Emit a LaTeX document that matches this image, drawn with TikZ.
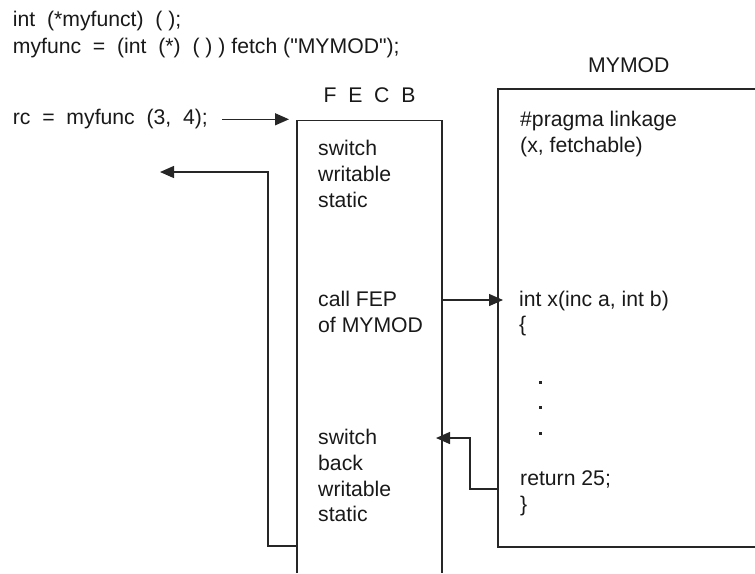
\documentclass[tikz,border=0pt]{standalone}
\usepackage{fontspec}
\setmainfont{Liberation Sans}[Ligatures=TeXOff]
\usetikzlibrary{arrows.meta}
\begin{document}
\begin{tikzpicture}[x=1pt,y=-1pt,
  code/.style={anchor=base west,inner sep=0pt,font=\fontsize{21.2}{26}\selectfont,text=black!90},
  boxline/.style={line width=1.4pt,draw=black!85},
  arr/.style={line width=1.4pt,draw=black!85,-{Triangle[length=14pt,width=12pt]}},
  dotmark/.style={fill=black!85}]
\useasboundingbox (0,0) rectangle (755,573);

% declarations
\node[code] (decl1) at (12.7,26.7) {int~~(*myfunct)~~(~);};
\node[code] (decl2) at (12.7,53) {myfunc~~=~~(int~~(*)~~(~)~) fetch ("MYMOD");};
\node[code] (call) at (12.7,124) {rc~~=~~myfunc~~(3,~~4);};

% FECB stub: open at the bottom
\coordinate (fTL) at (297,120.5);
\coordinate (fTR) at (442,120.5);
\coordinate (fBL) at (297,573);
\coordinate (fBR) at (442,573);
\draw[boxline] (fBL) -- (fTL) -- (fTR) -- (fBR);
\node[code,anchor=base] (fecb) at (369.5,102) {F~~E~~C~~B};

\node[code] (sw1) at (318,155) {switch};
\node[code] (sw2) at (318,181) {writable};
\node[code] (sw3) at (318,207) {static};
\node[code] (fep1) at (318,306.7) {call FEP};
\node[code] (fep2) at (318,332.7) {of MYMOD};
\node[code] (bk1) at (318,444) {switch};
\node[code] (bk2) at (318,470) {back};
\node[code] (bk3) at (318,496) {writable};
\node[code] (bk4) at (318,521) {static};

% MYMOD module, running off the right edge
\coordinate (mTR) at (760,89);
\coordinate (mTL) at (498,89);
\coordinate (mBL) at (498,547);
\coordinate (mBR) at (760,547);
\draw[boxline] (mTR) -- (mTL) -- (mBL) -- (mBR);
\node[code] (mymod) at (588,72.7) {MYMOD};

\node[code] (pr1) at (520,126) {\#pragma linkage};
\node[code] (pr2) at (520,152) {(x, fetchable)};
\node[code] (fn1) at (519,306) {int x(inc a, int b)};
\node[code] (fn2) at (519,331) {\{};
\node[code] (rt1) at (520,485) {return 25;};
\node[code] (rt2) at (520,511) {\}};

\foreach \yy in {382,407,433}
  \fill[dotmark] (538.5,\yy-1.5) rectangle (541.5,\yy+1.5);

% control flow
\coordinate (callA) at (222,119.3);
\coordinate (callB) at (289,119.3);
\draw[arr] (callA) -- (callB);

\coordinate (fepA) at (442,300);
\coordinate (fepB) at (503,300);
\draw[arr] (fepA) -- (fepB);

\coordinate (retA) at (498,489);
\coordinate (retB) at (436,438);
\draw[arr] (retA) -- (470,489) |- (retB);

\coordinate (outA) at (297,546);
\coordinate (outB) at (160,172);
\draw[arr] (outA) -- (268,546) |- (outB);
\end{tikzpicture}
\end{document}
